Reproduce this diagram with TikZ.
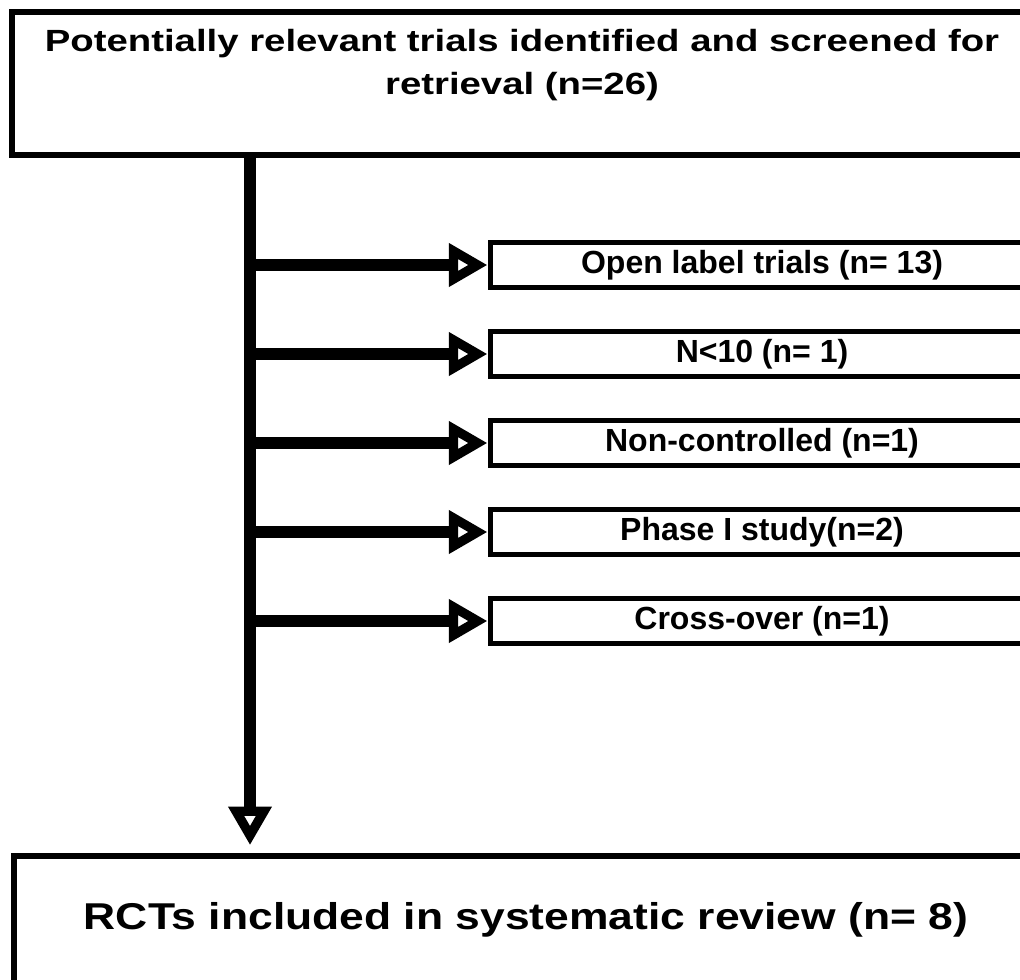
\documentclass[tikz,border=0pt]{standalone}
\usepackage{fontspec}
\setmainfont{Liberation Sans}
\newfontfamily\widesans{Liberation Sans}[FakeStretch=1.25]
\newfontfamily\widersans{Liberation Sans}[FakeStretch=1.19]
\usetikzlibrary{arrows.meta,positioning}
\tikzset{
  outerbox/.style={draw, line width=4.25pt, inner sep=0pt, minimum width=761pt},
  reasonbox/.style={draw, line width=3.75pt, inner sep=0pt, minimum width=408pt, minimum height=33.75pt, font=\fontsize{24}{28}\selectfont\bfseries},
  stemline/.style={line width=9pt},
  openhead/.style={-{Triangle[open, length=29pt, width=31pt, line width=7pt]}}
}

\begin{document}
\begin{tikzpicture}[x=0.75pt,y=0.75pt,yscale=-1,xscale=1]
\useasboundingbox (0,0) rectangle (1020,979);

%Shape: Rectangle [id:screen]
\node [outerbox, minimum height=107pt] (screen) at (519,83.5) {};
% Text Node
\node [font=\widesans\fontsize{23}{32}\selectfont\bfseries, align=center] (screentxt) at (522,65) {Potentially relevant trials identified and screened for\\retrieval (n=26)};

%Shape: Rectangle [id:included]
\node [outerbox, minimum height=123pt] (included) at (521,938) {};
% Text Node
\node [font=\widersans\fontsize{28}{34}\selectfont\bfseries] (includedtxt) at (526,920) {RCTs included in systematic review (n= 8)};

%Shapes: Rectangles [id:reasons]
\node [reasonbox] (openlabel) at (762,265) {Open label trials (n= 13)};
\node [reasonbox] (small) at (762,354) {N<10 (n= 1)};
\node [reasonbox] (noncontrol) at (762,443) {Non-controlled (n=1)};
\node [reasonbox] (phaseone) at (762,532) {Phase I study(n=2)};
\node [reasonbox] (crossover) at (762,621) {Cross-over (n=1)};

\coordinate (stem) at (250,0);

%Straight Lines [id:trunk]
\draw [stemline, openhead, shorten >=6pt] (screen.south -| stem) -- (included.north -| stem);
%Straight Lines [id:branches]
\draw [stemline, openhead] (openlabel.west -| stem) -- (openlabel.west);
\draw [stemline, openhead] (small.west -| stem) -- (small.west);
\draw [stemline, openhead] (noncontrol.west -| stem) -- (noncontrol.west);
\draw [stemline, openhead] (phaseone.west -| stem) -- (phaseone.west);
\draw [stemline, openhead] (crossover.west -| stem) -- (crossover.west);

\end{tikzpicture}
\end{document}
